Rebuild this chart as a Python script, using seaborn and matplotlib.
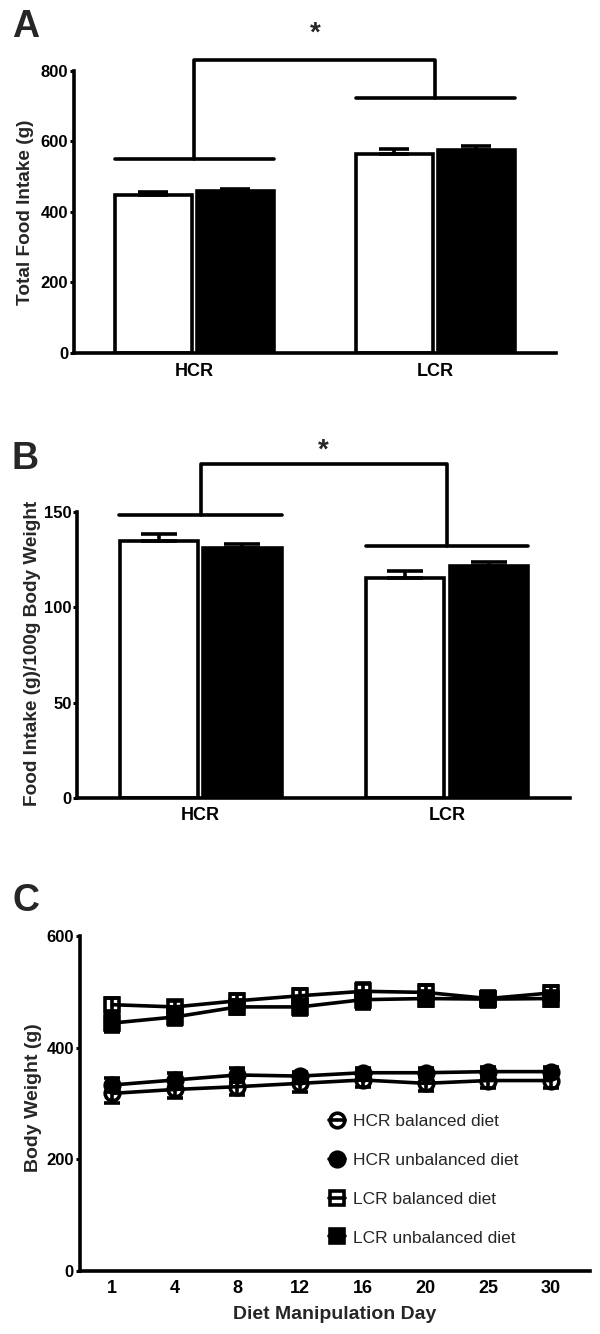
import numpy as np
import pandas as pd
import matplotlib
matplotlib.use("Agg")
import matplotlib.pyplot as plt
import seaborn as sns

# ---- data ----
groups = ["HCR", "LCR"]
diets = ["balanced", "unbalanced"]

# order: HCR balanced, HCR unbalanced, LCR balanced, LCR unbalanced
total_intake = [448, 460, 564, 576]
total_intake_sem = [9, 6, 14, 11]
total_bracket_groups = [549, 722]
total_bracket_top = 831
total_star = 905

rel_intake = [135.1, 131.4, 115.3, 121.8]
rel_intake_sem = [3.7, 2.1, 3.7, 2.0]
rel_bracket_groups = [148.7, 132.3]
rel_bracket_top = 175.3
rel_star = 182.5

days = ["1", "4", "8", "12", "16", "20", "25", "30"]
hcr_bal = [318, 325, 330, 336, 342, 336, 341, 341]
hcr_bal_sem = [17, 16, 15, 16, 13, 14, 14, 14]
hcr_unbal = [333, 342, 351, 349, 355, 355, 357, 357]
hcr_unbal_sem = [12, 13, 13, 8, 8, 8, 8, 8]
lcr_bal = [477, 473, 484, 493, 501, 499, 488, 498]
lcr_bal_sem = [12, 10, 12, 13, 14, 13, 12, 13]
lcr_unbal = [444, 455, 473, 473, 486, 488, 487, 488]
lcr_unbal_sem = [16, 14, 13, 15, 16, 14, 15, 14]

sns.set_style("ticks")
plt.rcParams["font.family"] = ["Liberation Sans", "DejaVu Sans"]
plt.rcParams["font.weight"] = "bold"
plt.rcParams["axes.labelweight"] = "bold"

LW = 2.6

fig = plt.figure(figsize=(6, 13.34), dpi=100)


def style_axis(ax, ymax, yticks):
    sns.despine(ax=ax)
    for s in ["left", "bottom"]:
        ax.spines[s].set_linewidth(LW)
        ax.spines[s].set_color("black")
    ax.set_ylim(0, ymax)
    ax.set_yticks(yticks)
    ax.tick_params(axis="y", length=3, width=2.2, pad=1, labelsize=12, colors="black")
    ax.tick_params(axis="x", length=0, pad=7, labelsize=13, colors="black")


def bar_panel(ax, values, sems, ymax, yticks, ylabel, lines, top, star_y, capsize):
    df = pd.DataFrame({"group": np.repeat(groups, 2), "diet": diets * 2, "value": values})
    sns.barplot(data=df, x="group", y="value", hue="diet", order=groups, hue_order=diets,
                palette={"balanced": "white", "unbalanced": "black"}, saturation=1,
                edgecolor="black", linewidth=LW, width=0.68, gap=0.065,
                errorbar=None, legend=False, ax=ax)
    bars = sorted(ax.patches, key=lambda p: p.get_x())
    xs = [p.get_x() + p.get_width() / 2 for p in bars]
    hs = [p.get_height() for p in bars]
    ax.errorbar(xs, hs, yerr=[np.zeros(len(sems)), sems], fmt="none", ecolor="black",
                elinewidth=LW, capsize=capsize, capthick=LW, zorder=3)
    for i, lvl in enumerate(lines):
        ax.plot([i - 0.33, i + 0.33], [lvl, lvl], color="black", lw=LW, clip_on=False)
    ax.plot([0, 0, 1, 1], [lines[0], top, top, lines[1]], color="black", lw=LW, clip_on=False)
    ax.text(0.5, star_y, "*", ha="center", va="center", fontsize=20, fontweight="bold")
    ax.set_xlim(-0.5, 1.5)
    style_axis(ax, ymax, yticks)
    ax.set_xlabel("")
    ax.set_ylabel(ylabel, fontsize=13.7)


# ---- panel A ----
axA = fig.add_axes([0.1227, 0.7354, 0.8040, 0.2114])
bar_panel(axA, total_intake, total_intake_sem, 800, [0, 200, 400, 600, 800],
          "Total Food Intake (g)", total_bracket_groups, total_bracket_top, total_star, 11)
axA.yaxis.set_label_coords(-0.083, 0.5)

# ---- panel B ----
axB = fig.add_axes([0.129, 0.402, 0.821, 0.214])
bar_panel(axB, rel_intake, rel_intake_sem, 150, [0, 50, 100, 150],
          "Food Intake (g)/100g Body Weight", rel_bracket_groups, rel_bracket_top, rel_star, 13)
axB.yaxis.set_label_coords(-0.073, 0.505)

# ---- panel C ----
axC = fig.add_axes([0.1325, 0.0474, 0.8505, 0.2509])
pos = np.arange(len(days))
series = [
    ("HCR balanced diet", hcr_bal, hcr_bal_sem, "o", "none"),
    ("HCR unbalanced diet", hcr_unbal, hcr_unbal_sem, "o", "black"),
    ("LCR balanced diet", lcr_bal, lcr_bal_sem, "s", "none"),
    ("LCR unbalanced diet", lcr_unbal, lcr_unbal_sem, "s", "black"),
]
for label, vals, sem, mk, fc in series:
    axC.errorbar(pos, vals, yerr=sem, fmt="none", ecolor="black", elinewidth=LW,
                 capsize=6, capthick=LW)
    sns.lineplot(x=pos, y=vals, color="black", marker=mk, markersize=10.5,
                 markerfacecolor=fc, markeredgecolor="black", markeredgewidth=LW,
                 linewidth=LW, label=label, ax=axC)
axC.set_xticks(pos)
axC.set_xticklabels(days)
axC.set_xlim(-0.52, 7.62)
style_axis(axC, 600, [0, 200, 400, 600])
axC.set_xlabel("Diet Manipulation Day", fontsize=14, labelpad=6)
axC.set_ylabel("Body Weight (g)", fontsize=14)
axC.yaxis.set_label_coords(-0.073, 0.516)
axC.legend(loc="upper left", bbox_to_anchor=(0.489, 0.468), frameon=False,
           prop={"family": "Liberation Sans", "weight": "normal", "size": 12.5},
           handlelength=0.9, handletextpad=0.5, labelspacing=1.36,
           borderpad=0, borderaxespad=0)

# panel letters
for letter, ytop in [("A", 9), ("B", 441), ("C", 883)]:
    fig.text(12 / 600, 1 - ytop / 1334, letter, ha="left", va="top",
             fontsize=27, fontweight="bold")

fig.savefig("out.png", dpi=100)
